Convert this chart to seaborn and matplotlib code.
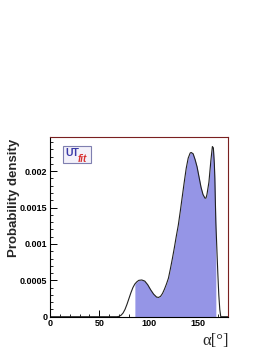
import seaborn as sns
import matplotlib.pyplot as plt
from matplotlib.patches import Rectangle
import numpy as np
import pandas as pd

# valores (alpha em graus, densidade)
alpha = [0, 60, 68, 70, 72, 74, 76, 78, 80, 82, 84, 86, 88, 90, 93, 96, 99, 102, 105,
         108, 110, 112, 114, 116, 118, 120, 122, 124, 126, 128, 130, 132, 134, 136,
         138, 140, 142, 143, 145, 147, 149, 151, 153, 155, 157, 158, 159, 161, 163,
         164.5, 165.5, 166.5, 167, 168, 169, 170, 171, 172, 173, 180]
dens = [0, 0, 0, 0.000005, 0.00002, 0.00005, 0.0001, 0.00017, 0.00025, 0.00033,
        0.0004, 0.00045, 0.00048, 0.0005, 0.000505, 0.00049, 0.00044, 0.00037,
        0.00031, 0.00027, 0.000265, 0.00028, 0.00032, 0.00038, 0.00045, 0.00053,
        0.00066, 0.0008, 0.00095, 0.00111, 0.00126, 0.00145, 0.00165, 0.00185,
        0.00204, 0.00218, 0.00225, 0.002258, 0.00224, 0.00216, 0.00206, 0.00192,
        0.00178, 0.00168, 0.00163, 0.00163, 0.00168, 0.00185, 0.00215, 0.00234,
        0.00232, 0.0021, 0.0019, 0.0013, 0.00095, 0.0006, 0.0003, 0.0001, 0, 0]
regiao = (86, 168)  # intervalo sombreado

df = pd.DataFrame({'alpha': alpha, 'dens': dens})

sns.set_style('white')
plt.rcParams['font.family'] = ['Liberation Sans', 'DejaVu Sans']

fig = plt.figure(figsize=(2.73, 3.53), dpi=100)
ax = fig.add_axes([0.183, 0.1028, 0.651, 0.509])

mask = (df['alpha'] >= regiao[0]) & (df['alpha'] <= regiao[1])
ax.fill_between(df['alpha'][mask], df['dens'][mask], 0, color='#9595e6', lw=0)
sns.lineplot(data=df, x='alpha', y='dens', ax=ax, color='#222222', lw=0.8)

ax.set_xlim(0, 180)
ax.set_ylim(0, 0.00247)
ax.set_xticks([0, 50, 100, 150])
ax.set_xticklabels(['0', '50', '100', '150'])
ax.set_xticks(np.arange(0, 181, 10), minor=True)
ax.set_yticks([0, 0.0005, 0.001, 0.0015, 0.002])
ax.set_yticklabels(['0', '0.0005', '0.001', '0.0015', '0.002'])
ax.set_yticks(np.arange(0, 0.00246, 0.0001), minor=True)
ax.tick_params(which='both', direction='in', top=False, right=False,
               bottom=True, left=True, labelsize=6.5, pad=2, colors='black')
ax.tick_params(which='major', length=5, width=0.7)
ax.tick_params(which='minor', length=2.5, width=0.6)
for l in ax.get_xticklabels() + ax.get_yticklabels():
    l.set_fontweight('bold')

for s in ['left', 'bottom']:
    ax.spines[s].set_color('black')
    ax.spines[s].set_linewidth(0.8)
for s in ['top', 'right']:
    ax.spines[s].set_color('#7a2020')
    ax.spines[s].set_linewidth(0.8)

ax.set_xlabel('')
ax.set_ylabel('')
fig.text(0.051, 0.44, 'Probability density', rotation=90, fontsize=9.5,
         fontweight='bold', ha='center', va='center')
fig.text(0.837, 0.01, 'α[°]', fontsize=12, family='Liberation Serif',
         ha='right', va='bottom')

# logo UTfit
ax.add_patch(Rectangle((0.073, 0.855), 0.157, 0.095, transform=ax.transAxes,
                       fc='#f3f1fa', ec='#7f7fb0', lw=0.8, zorder=5))
ax.text(0.088, 0.91, 'UT', transform=ax.transAxes, fontsize=7.5, fontweight='bold',
        color='#3a3aa8', va='center', ha='left', zorder=6)
ax.text(0.155, 0.88, 'fit', transform=ax.transAxes, fontsize=7, style='italic',
        fontweight='bold', color='#d83030', va='center', ha='left', zorder=6)

fig.savefig('out.png', dpi=100)
